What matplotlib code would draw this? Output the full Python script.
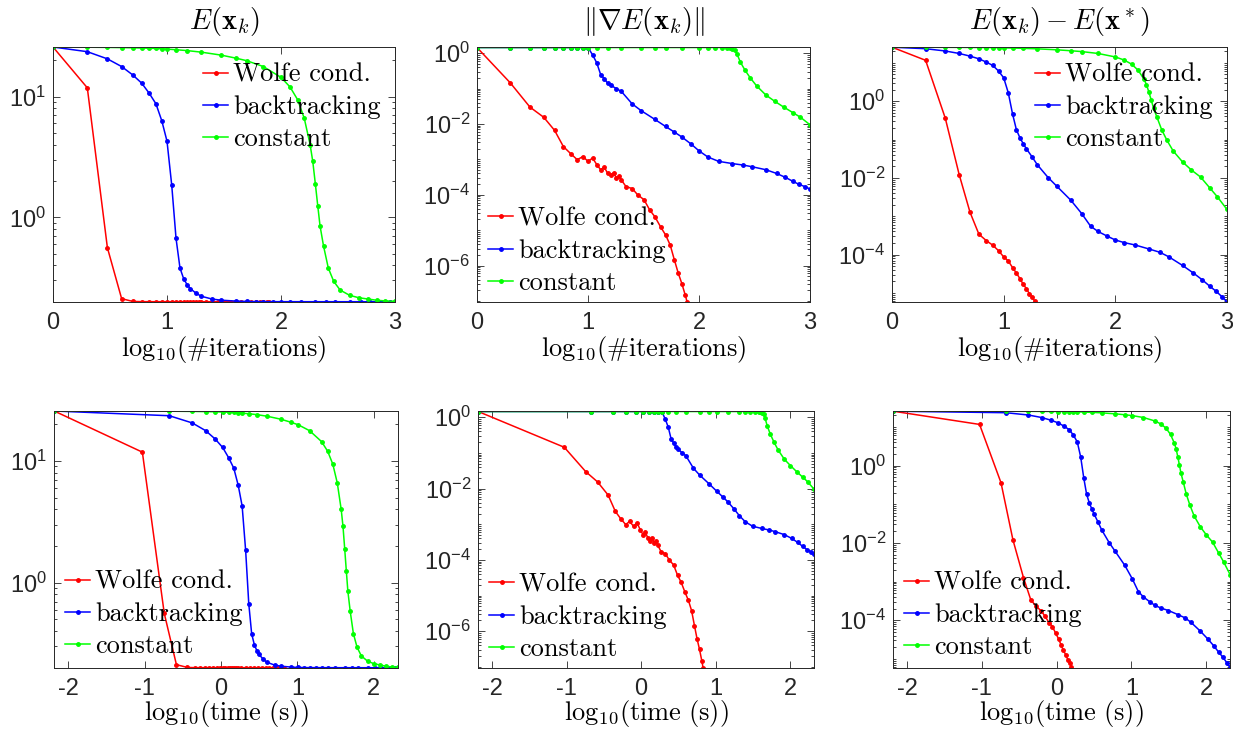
import matplotlib
matplotlib.use("Agg")
import matplotlib.pyplot as plt
import numpy as np
from matplotlib.font_manager import FontProperties
from matplotlib.ticker import FixedLocator, LogLocator, NullFormatter, NullLocator

plt.rcParams["font.family"] = ["Liberation Sans", "DejaVu Sans"]
plt.rcParams["mathtext.fontset"] = "cm"
plt.rcParams["axes.unicode_minus"] = False

# Wolfe conditions
iters_wolfe = [1, 2, 3, 4, 5, 6, 7, 8, 9, 10, 11, 12, 13, 14, 15, 16, 17, 18, 19, 20,
               22, 25, 28, 32, 36, 40, 45, 50, 55, 60, 65, 70, 75, 78]
time_wolfe = [0.0065, 0.093, 0.18, 0.26, 0.36, 0.45, 0.53, 0.62, 0.70, 0.79, 0.88, 0.97,
              1.06, 1.14, 1.23, 1.32, 1.41, 1.50, 1.58, 1.67, 1.85, 2.11, 2.38, 2.73,
              3.08, 3.43, 3.87, 4.31, 4.75, 5.19, 5.63, 6.07, 6.51, 6.78]
grad_wolfe = [1.45, 0.144, 0.030, 0.0154, 6.6e-3, 2.3e-3, 1.44e-3, 9.8e-4, 1.2e-3, 8.8e-4,
              1.09e-3, 7.1e-4, 5.1e-4, 6.0e-4, 4.1e-4, 3.5e-4, 4.2e-4, 3.0e-4, 3.3e-4, 2.6e-4,
              1.7e-4, 1.5e-4, 1.0e-4, 7.2e-5, 3.7e-5, 2.4e-5, 1.25e-5, 7.3e-6, 3.8e-6, 1.44e-6,
              6.1e-7, 3.1e-7, 1.5e-7, 9.5e-8]
gap_wolfe = [25.5, 11.6, 0.36, 0.012, 1.26e-3, 3.4e-4, 2.3e-4, 1.75e-4, 1.26e-4, 8.7e-5,
             6.8e-5, 4.6e-5, 3.3e-5, 2.35e-5, 1.66e-5, 1.29e-5, 9.5e-6, 7.8e-6, 6.1e-6, 4.6e-6,
             2.8e-6, 1.5e-6, 8e-7, 4e-7, 2e-7, 1e-7, 5e-8, 2e-8, 1e-8, 5e-9, 2e-9, 1e-9,
             5e-10, 3e-10]

# backtracking
iters_back = [1, 2, 3, 4, 5, 6, 7, 8, 9, 10, 11, 12, 13, 14, 15, 16, 18, 20, 25, 30, 40,
              50, 60, 70, 85, 100, 120, 150, 200, 250, 300, 400, 500, 600, 700, 800, 900, 1000]
time_back = [0.0065, 0.21, 0.42, 0.63, 0.84, 1.05, 1.26, 1.47, 1.68, 1.89, 2.10, 2.31, 2.52,
             2.73, 2.94, 3.15, 3.57, 3.99, 5.04, 6.09, 8.19, 10.3, 12.4, 14.5, 17.6, 20.8,
             25.0, 31.3, 41.8, 52.3, 62.8, 83.8, 105, 126, 147, 168, 189, 210]
grad_back = [1.45, 1.45, 1.45, 1.45, 1.45, 1.45, 1.45, 1.45, 1.45, 1.45, 0.9, 0.53, 0.25,
             0.19, 0.144, 0.125, 0.1, 0.083, 0.037, 0.024, 0.0135, 8.5e-3, 5.9e-3, 4.3e-3,
             2.7e-3, 1.74e-3, 1.17e-3, 8.8e-4, 7.6e-4, 6.9e-4, 6.2e-4, 5.1e-4, 4.0e-4,
             3.1e-4, 2.4e-4, 1.95e-4, 1.7e-4, 1.45e-4]
gap_back = [25.5, 23.3, 20.3, 17.5, 14.9, 12.7, 10.4, 8.5, 6.1, 4.07, 1.65, 0.47, 0.18, 0.11,
            0.077, 0.057, 0.035, 0.022, 0.0102, 6.0e-3, 2.6e-3, 1.17e-3, 5.5e-4, 4.0e-4,
            3.0e-4, 2.4e-4, 2.05e-4, 1.78e-4, 1.4e-4, 1.15e-4, 8.8e-5, 5.2e-5, 3.3e-5,
            2.2e-5, 1.5e-5, 1.1e-5, 8e-6, 5.8e-6]

# constant step
iters_const = [1, 2, 3, 4, 5, 6, 7, 8, 9, 10, 12, 15, 20, 30, 40, 50, 70, 100, 120, 140, 160,
               180, 190, 200, 210, 220, 236, 260, 290, 330, 400, 480, 580, 700, 820, 1000]
time_const = [0.0065, 0.21, 0.42, 0.63, 0.84, 1.05, 1.26, 1.47, 1.68, 1.89, 2.31, 2.94, 3.99,
              6.09, 8.19, 10.3, 14.5, 20.8, 25.0, 29.2, 33.4, 37.6, 39.7, 41.8, 43.9, 46.0,
              49.4, 54.4, 60.7, 69.1, 83.8, 101, 122, 147, 172, 210]
grad_const = [1.45, 1.45, 1.45, 1.45, 1.45, 1.45, 1.45, 1.45, 1.45, 1.45, 1.45, 1.45, 1.45,
              1.45, 1.45, 1.45, 1.45, 1.45, 1.45, 1.45, 1.45, 1.45, 1.43, 1.35, 1.2, 0.95,
              0.56, 0.33, 0.2, 0.12, 0.066, 0.044, 0.030, 0.021, 0.0155, 0.0095]
gap_const = [25.5, 25.4, 25.3, 25.2, 25.1, 25.0, 24.9, 24.8, 24.6, 24.5, 24.2, 23.8, 23.1,
             21.8, 20.6, 19.6, 17.5, 14.2, 11.8, 9.2, 6.4, 3.8, 2.7, 1.7, 1.05, 0.65, 0.38,
             0.18, 0.095, 0.05, 0.026, 0.016, 0.0105, 5.5e-3, 3.2e-3, 1.5e-3]

E_star = 0.2

labels = ["Wolfe cond.", "backtracking", "constant"]
colors = ["#ff0000", "#0000ff", "#00ff00"]
titles = [r"$E(\mathbf{x}_k)$", r"$\|\nabla E(\mathbf{x}_k)\|$",
          r"$E(\mathbf{x}_k)-E(\mathbf{x}^*)$"]

iters = [iters_wolfe, iters_back, iters_const]
times = [time_wolfe, time_back, time_const]
grads = [grad_wolfe, grad_back, grad_const]
gaps = [gap_wolfe, gap_back, gap_const]
energies = [[E_star + g for g in gp] for gp in gaps]

ylims = [(0.199, 25.7), (9.3e-8, 1.5), (5.8e-6, 25.8)]
yticks = [[1e0, 1e1], [1e-6, 1e-4, 1e-2, 1e0], [1e-4, 1e-2, 1e0]]

# axes rectangles in figure pixels (left, top, right, bottom)
W, H = 1233, 731
boxes = [
    [(53, 47, 395, 302), (477, 47, 810, 302), (892, 47, 1227, 302)],
    [(54, 411, 398, 668), (478, 411, 814, 668), (893, 411, 1230, 668)],
]
legend_anchor = [
    [(0.439, 0.937), (0.033, 0.373), (0.427, 0.937)],
    [(0.032, 0.381), (0.033, 0.370), (0.033, 0.377)],
]
legend_font = FontProperties(family="cmr10", size=19)

fig = plt.figure(figsize=(W / 100, H / 100), dpi=100)

for row in range(2):
    for col in range(3):
        l, t, r, b = boxes[row][col]
        ax = fig.add_axes([l / W, 1 - b / H, (r - l) / W, (b - t) / H])
        ydata = [energies, grads, gaps][col]
        for m in range(3):
            if row == 0:
                x = np.log10(iters[m])
            else:
                x = np.log10(times[m])
            ax.plot(x, ydata[m], "-", color=colors[m], lw=1.1, marker=".",
                    markersize=5, label=labels[m])
        ax.set_yscale("log")
        ax.set_ylim(*ylims[col])
        if row == 0:
            ax.set_xlim(0, 3)
            ax.set_xticks([0, 1, 2, 3])
            ax.set_xlabel(r"$\mathrm{log}_{10}(\#\mathrm{iterations})$", fontsize=19,
                          labelpad=0)
            ax.set_title(titles[col], fontsize=20.5, pad=13)
        else:
            ax.set_xlim(-2.19, 2.32)
            ax.set_xticks([-2, -1, 0, 1, 2])
            ax.set_xlabel(r"$\mathrm{log}_{10}(\mathrm{time\ (s)})$", fontsize=19,
                          labelpad=-1)
        ax.xaxis.set_minor_locator(NullLocator())
        ax.yaxis.set_major_locator(FixedLocator(yticks[col]))
        ax.yaxis.set_minor_locator(LogLocator(base=10, subs=np.arange(1, 10), numticks=60))
        ax.yaxis.set_minor_formatter(NullFormatter())
        ax.tick_params(which="both", direction="in", top=True, right=True,
                       color="0.15", labelcolor="0.15", width=0.6)
        ax.tick_params(which="major", length=5, labelsize=17)
        ax.tick_params(axis="x", which="major", pad=7)
        ax.tick_params(axis="y", which="major", pad=5)
        ax.tick_params(which="minor", length=2.5)
        for s in ax.spines.values():
            s.set_color("0.15")
            s.set_linewidth(0.7)
        ax.legend(loc="upper left", bbox_to_anchor=legend_anchor[row][col], frameon=False,
                  prop=legend_font, handlelength=0.95, handletextpad=0.19,
                  labelspacing=0.32, borderpad=0, borderaxespad=0)

fig.savefig("out.png", dpi=100)
